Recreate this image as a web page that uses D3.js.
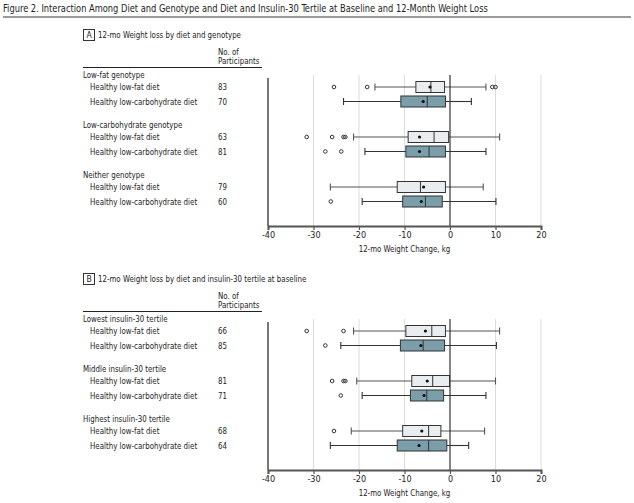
<!DOCTYPE html>
<html><head><meta charset="utf-8">
<script src="https://cdn.jsdelivr.net/npm/d3@7"></script>
<style>
html,body{margin:0;padding:0;background:#fff;}
svg{display:block;}
text{font-family:"Liberation Sans Narrow","DejaVu Sans Condensed","Arial Narrow",sans-serif;fill:#222;}
</style></head>
<body>
<script>
// ---------- data ----------
const title = "Figure 2. Interaction Among Diet and Genotype and Diet and Insulin-30 Tertile at Baseline and 12-Month Weight Loss";
const panelLetters = ["A", "B"];
const panelTitles = ["12-mo Weight loss by diet and genotype", "12-mo Weight loss by diet and insulin-30 tertile at baseline"];
const groupsA = ["Low-fat genotype", "Low-carbohydrate genotype", "Neither genotype"];
const groupsB = ["Lowest insulin-30 tertile", "Middle insulin-30 tertile", "Highest insulin-30 tertile"];
const diets = ["Healthy low-fat diet", "Healthy low-carbohydrate diet"];
const nA = [83, 70, 63, 81, 79, 60];
const nB = [66, 85, 81, 71, 68, 64];
// box statistics (kg), one entry per row
const whiskerLowA  = [-16.5, -23.4, -21.2, -18.7, -26.3, -19.3];
const q1A          = [-7.5, -10.8, -9.2, -9.7, -11.6, -10.4];
const medianA      = [-4.2, -5.0, -3.5, -4.6, -6.5, -5.4];
const q3A          = [-1.2, -1.0, -0.3, -1.0, -1.0, -1.7];
const whiskerHighA = [7.9, 4.7, 10.9, 7.9, 7.3, 10.1];
const meanA        = [-4.4, -5.9, -6.7, -6.7, -5.8, -6.3];
const outliersA    = [[-25.5, -18.2, 9.3, 10.0], [], [-31.5, -25.9, -23.0, -23.4], [-27.4, -23.9], [], [-26.2]];
const whiskerLowB  = [-21.2, -24.0, -20.5, -19.3, -21.7, -26.3];
const q1B          = [-9.7, -10.9, -8.4, -8.7, -10.4, -11.6];
const medianB      = [-4.0, -5.9, -3.8, -5.1, -4.7, -4.7];
const q3B          = [-1.0, -1.2, -0.1, -1.4, -2.0, -0.7];
const whiskerHighB = [10.9, 10.2, 10.0, 7.9, 7.6, 4.1];
const meanB        = [-5.4, -6.4, -5.0, -5.7, -6.2, -6.8];
const outliersB    = [[-31.5, -23.4], [-27.4], [-25.9, -23.0, -23.4], [-24.0], [-25.5], []];
const xTicks = [-40, -30, -20, -10, 0, 10, 20];
const xDomain = [-40, 20];
const axisTitle = "12-mo Weight Change, kg";
const nHeader = ["No. of", "Participants"];

// ---------- layout ----------
const W = 634, H = 503;
const svg = d3.select("body").append("svg").attr("width", W).attr("height", H);
const x = d3.scaleLinear().domain(xDomain).range([268, 541]);
const fillColors = ["#e9edef", "#7b9eab"];
const whiskColors = ["#555", "#333"];
const SQ = 0.87;
function squeeze(sel, f) {
  sel.each(function () {
    const L = this.getComputedTextLength();
    d3.select(this).attr("textLength", L * f).attr("lengthAdjust", "spacingAndGlyphs");
  });
  return sel;
}

squeeze(svg.append("text").attr("x", 3).attr("y", 11.5).attr("font-size", 10.6).attr("fill", "#222").text(title), SQ);
svg.append("rect").attr("x", 3).attr("y", 16).attr("width", 628).attr("height", 2).attr("fill", "#9a9a9a");

function buildPanel(off, pi, groups, ns, wl, q1, med, q3, wh, mean, outs) {
  const g = svg.append("g").attr("transform", `translate(0,${off})`);
  // panel letter box
  g.append("rect").attr("x", 83.5).attr("y", 29.5).attr("width", 11).attr("height", 11)
    .attr("fill", "none").attr("stroke", "#333").attr("stroke-width", 1);
  g.append("text").attr("x", 89).attr("y", 38.3).attr("text-anchor", "middle").attr("font-size", 8.5).text(panelLetters[pi]);
  squeeze(g.append("text").attr("x", 98).attr("y", 38.3).attr("font-size", 9).text(panelTitles[pi]), SQ);
  // header
  squeeze(g.append("text").attr("x", 218).attr("y", 55).attr("font-size", 9).text(nHeader[0]), SQ);
  squeeze(g.append("text").attr("x", 218).attr("y", 64.3).attr("font-size", 9).text(nHeader[1]), SQ);
  g.append("line").attr("x1", 83).attr("x2", 262).attr("y1", 67.5).attr("y2", 67.5).attr("stroke", "#222").attr("stroke-width", 1);

  const rowY = i => 87 + Math.floor(i / 2) * 50 + (i % 2) * 14.5;
  const rows = d3.range(6);

  // grid
  const plotTop = 75, axisY = 226;
  g.selectAll(".grid").data(xTicks.filter(t => t !== 0 && t !== xDomain[0])).enter().append("line")
    .attr("x1", d => x(d)).attr("x2", d => x(d)).attr("y1", plotTop).attr("y2", axisY)
    .attr("stroke", "#dcdcdc").attr("stroke-width", 1);
  // left line
  g.append("line").attr("x1", x(xDomain[0])).attr("x2", x(xDomain[0])).attr("y1", 78).attr("y2", axisY)
    .attr("stroke", "#777").attr("stroke-width", 2);

  // group labels and row labels
  groups.forEach((gr, k) => {
    squeeze(g.append("text").attr("x", 83).attr("y", 77.5 + k * 50).attr("font-size", 9).text(gr), SQ);
  });
  rows.forEach(i => {
    squeeze(g.append("text").attr("x", 90).attr("y", rowY(i) + 3.2).attr("font-size", 9).text(diets[i % 2]), SQ);
    squeeze(g.append("text").attr("x", 218).attr("y", rowY(i) + 3.2).attr("font-size", 9).text(ns[i]), SQ);
  });

  // boxes
  const bh = 11, ch = 3.5;
  rows.forEach(i => {
    const y = rowY(i), d = i % 2;
    const wc = whiskColors[d];
    g.append("line").attr("x1", x(wl[i])).attr("x2", x(q1[i])).attr("y1", y).attr("y2", y).attr("stroke", wc).attr("stroke-width", 1.1);
    g.append("line").attr("x1", x(q3[i])).attr("x2", x(wh[i])).attr("y1", y).attr("y2", y).attr("stroke", wc).attr("stroke-width", 1.1);
    g.append("line").attr("x1", x(wl[i])).attr("x2", x(wl[i])).attr("y1", y - ch).attr("y2", y + ch).attr("stroke", wc).attr("stroke-width", 1.1);
    g.append("line").attr("x1", x(wh[i])).attr("x2", x(wh[i])).attr("y1", y - ch).attr("y2", y + ch).attr("stroke", wc).attr("stroke-width", 1.1);
    g.append("rect").attr("x", x(q1[i])).attr("y", y - bh / 2).attr("width", x(q3[i]) - x(q1[i])).attr("height", bh)
      .attr("fill", fillColors[d]).attr("stroke", "#333").attr("stroke-width", 1);
    g.append("line").attr("x1", x(med[i])).attr("x2", x(med[i])).attr("y1", y - bh / 2).attr("y2", y + bh / 2).attr("stroke", "#333").attr("stroke-width", 1);
    g.append("circle").attr("cx", x(mean[i])).attr("cy", y).attr("r", 1.6).attr("fill", "#111");
    outs[i].forEach(o => {
      g.append("circle").attr("cx", x(o)).attr("cy", y).attr("r", 1.8).attr("fill", "none").attr("stroke", "#333").attr("stroke-width", 1);
    });
  });

  // zero line
  g.append("line").attr("x1", x(0)).attr("x2", x(0)).attr("y1", plotTop).attr("y2", axisY).attr("stroke", "#333").attr("stroke-width", 1.2);

  // axis
  const axis = d3.axisBottom(x).tickValues(xTicks).tickSize(4).tickFormat(d => String(d));
  const ag = g.append("g").attr("transform", `translate(0,${axisY})`).call(axis);
  ag.select(".domain").attr("stroke", "#555").attr("stroke-width", 2);
  ag.selectAll(".tick line").attr("stroke", "#555").attr("stroke-width", 1.2);
  ag.selectAll(".tick text").attr("font-size", 9).attr("fill", "#333").attr("dy", "0.55em")
    .attr("font-family", '"Liberation Sans Narrow","DejaVu Sans Condensed",sans-serif');
  squeeze(g.append("text").attr("x", (x.range()[0] + x.range()[1]) / 2).attr("y", 252).attr("text-anchor", "middle")
    .attr("font-size", 9).text(axisTitle), SQ);
}

buildPanel(0, 0, groupsA, nA, whiskerLowA, q1A, medianA, q3A, whiskerHighA, meanA, outliersA);
buildPanel(244, 1, groupsB, nB, whiskerLowB, q1B, medianB, q3B, whiskerHighB, meanB, outliersB);
</script>
</body></html>
